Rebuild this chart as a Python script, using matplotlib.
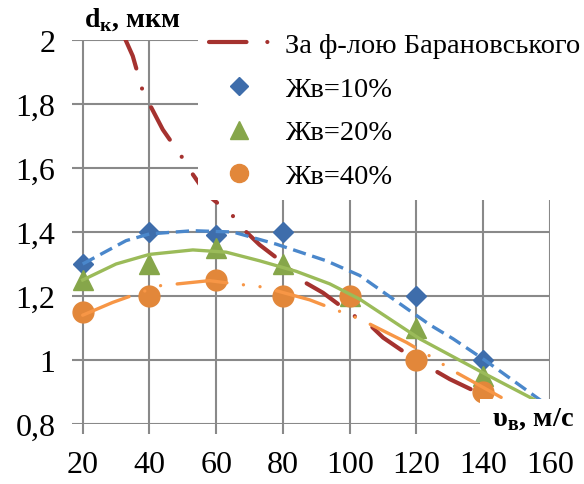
import numpy as np
import matplotlib
matplotlib.use("Agg")
import matplotlib.pyplot as plt
from matplotlib.lines import Line2D
from matplotlib.patches import Rectangle

SERIF = ['Liberation Serif', 'DejaVu Serif']
plt.rcParams['font.family'] = SERIF
plt.rcParams['mathtext.fontset'] = 'custom'
plt.rcParams['mathtext.rm'] = 'Liberation Serif'
plt.rcParams['mathtext.bf'] = 'Liberation Serif:bold'

# experimental points
v = [20, 40, 60, 80, 100, 120, 140]
v10 = [20, 40, 60, 80, 120, 140]
d10 = [1.30, 1.40, 1.39, 1.40, 1.20, 1.00]
d20 = [1.25, 1.30, 1.35, 1.30, 1.20, 1.10, 0.95]
d40 = [1.15, 1.20, 1.25, 1.20, 1.20, 1.00, 0.90]

# trend lines
tv10 = [20, 33, 40, 53, 65, 78, 93, 103, 124, 131, 140, 158]
td10 = [1.30, 1.373, 1.394, 1.404, 1.40, 1.362, 1.31, 1.264, 1.11, 1.066, 1.003, 0.868]
tv20 = [20, 30, 40, 53, 63, 73, 84, 94, 103, 121, 141, 157]
td20 = [1.25, 1.30, 1.33, 1.344, 1.337, 1.31, 1.277, 1.238, 1.19, 1.066, 0.954, 0.867]
tv40 = [20, 29, 43, 58, 64, 74, 88, 103, 117, 126, 130, 148]
td40 = [1.14, 1.18, 1.232, 1.248, 1.24, 1.228, 1.188, 1.128, 1.055, 1.00, 0.972, 0.868]

# Baranovsky formula curve
v_bar = [32, 35, 38, 41, 44, 50, 53, 57, 65, 69, 73, 78, 87, 92, 101, 106, 110, 117, 125, 130, 138, 150]
d_bar = [2.02, 1.95, 1.84, 1.78, 1.72, 1.63, 1.58, 1.52, 1.45, 1.40, 1.36, 1.32, 1.24, 1.21, 1.14, 1.11,
         1.07, 1.02, 0.97, 0.94, 0.90, 0.83]

labels = ['За ф-лою Барановського', 'Жв=10%', 'Жв=20%', 'Жв=40%']
ytick_labels = ['0,8', '1', '1,2', '1,4', '1,6', '1,8', '2']

c_red = '#A5322F'
c_blue_m, c_blue_l = '#3E6DAB', '#4A87CB'
c_green_m, c_green_l = '#86A64A', '#9BBB59'
c_orange_m, c_orange_l = '#E2873A', '#F79646'
bar_dash = (0, (9, 5, 0.01, 5))

fig = plt.figure(figsize=(5.84, 4.85), dpi=100)
W, H = 584, 485
ax = fig.add_axes([72 / W, 1 - 425 / H, (550 - 72) / W, (425 - 41) / H])
ax.set_xlim(16.8, 160)
ax.set_ylim(0.8, 2.0)

ax.set_xticks(range(20, 161, 20))
ax.set_xticklabels([str(x) for x in range(20, 161, 20)], family=SERIF)
ax.set_yticks(np.arange(0.8, 2.01, 0.2))
ax.set_yticklabels(ytick_labels, family=SERIF)
ax.grid(True, color='#898989', lw=1.5)
for s in ax.spines.values():
    s.set_visible(False)
ax.tick_params(axis='x', length=7, width=1.5, color='#898989', labelsize=23, pad=12)
ax.tick_params(axis='y', length=0, labelsize=23, pad=12)

# trend lines
ax.plot(tv10, td10, color=c_blue_l, lw=2.4, ls=(0, (4, 2)), zorder=4)
ax.plot(tv20, td20, color=c_green_l, lw=2.4, ls='-', zorder=4, solid_joinstyle='round')
ax.plot(tv40, td40, color=c_orange_l, lw=2.4, ls=(0, (15, 5, 0.01, 5, 0.01, 5)),
        dash_capstyle='round', zorder=4)

ax.plot(v_bar, d_bar, color=c_red, lw=3, ls=bar_dash, dash_capstyle='round', zorder=3)
ax.plot(v10, d10, 'D', color=c_blue_m, ms=10.5, zorder=3.1, clip_on=False)
ax.plot(v, d20, '^', color=c_green_m, ms=15, zorder=3.2, clip_on=False)
ax.plot(v, d40, 'o', color=c_orange_m, ms=15, zorder=3.3, clip_on=False)

handles = [
    Line2D([], [], color=c_red, lw=3, ls=bar_dash, dash_capstyle='round'),
    Line2D([], [], ls='', marker='D', color=c_blue_m, ms=8.7),
    Line2D([], [], ls='', marker='^', color=c_green_m, ms=13),
    Line2D([], [], ls='', marker='o', color=c_orange_m, ms=13),
]
leg = fig.legend(handles, labels, loc='upper left', bbox_to_anchor=(198 / W, 1 - 22 / H),
                 frameon=True, fancybox=False, edgecolor='none', facecolor='white', framealpha=1,
                 prop={'family': SERIF, 'size': 20.5}, handlelength=2.05, handletextpad=0.6,
                 labelspacing=0.62, borderpad=0.4, borderaxespad=0)
leg.set_zorder(5)

fig.text(132 / W, 1 - 20 / H, r'$\mathbf{d}_\mathbf{к}$, мкм', fontsize=20, fontweight='bold',
         family=SERIF, ha='center', va='center', zorder=6)
fig.add_artist(Rectangle((480 / W, 1 - 448 / H), (W - 480) / W, 48 / H, transform=fig.transFigure,
                         facecolor='white', edgecolor='none', zorder=5))
fig.text(533 / W, 1 - 420 / H, r'$\mathbf{υ}_\mathbf{в}$, м/с', fontsize=20.5, fontweight='bold',
         family=SERIF, ha='center', va='center', zorder=6)

fig.savefig('out.png', dpi=100)
